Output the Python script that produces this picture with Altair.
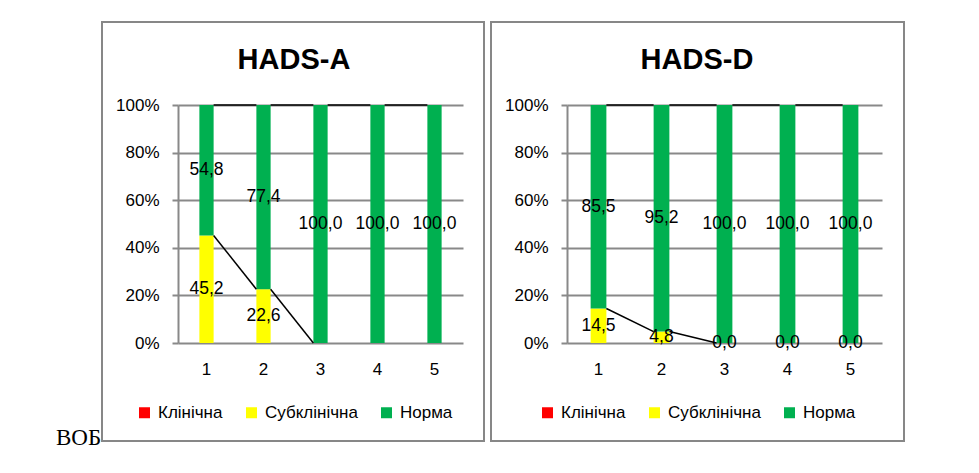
import altair as alt
import pandas as pd

# ---------------- data ----------------
categories = ["1", "2", "3", "4", "5"]
series_names = ["Клінічна", "Субклінічна", "Норма"]
series_colors = ["#FF0000", "#FFFF00", "#00B050"]

a_title = "HADS-A"
a_klin = [None, None, None, None, None]
a_subklin = [45.2, 22.6, None, None, None]
a_norma = [54.8, 77.4, 100.0, 100.0, 100.0]

d_title = "HADS-D"
d_klin = [None, None, None, None, None]
d_subklin = [14.5, 4.8, 0.0, 0.0, 0.0]
d_norma = [85.5, 95.2, 100.0, 100.0, 100.0]

y_ticks = [0, 20, 40, 60, 80, 100]
footnote = "ВОБ"


def table(klin, sub, norma):
    rows = []
    for sidx, (name, vals) in enumerate(zip(series_names, [klin, sub, norma])):
        for cat, v in zip(categories, vals):
            rows.append({
                "cat": cat, "series": name, "sidx": sidx,
                "value": 0.0 if v is None else v,
                "label": "" if v is None else f"{v:.1f}".replace(".", ","),
            })
    return pd.DataFrame(rows)


FONT = "Liberation Sans"
GRID = "#898989"
FRAME = "#878787"


def panel(df, title, width, legend_x, frame_x2, title_x, with_footnote=False):
    height = 238
    step = width / len(categories)
    off = 0.125 * step

    x = alt.X("cat:O", sort=categories, title=None,
              scale=alt.Scale(paddingInner=0, paddingOuter=0),
              axis=alt.Axis(labelAngle=0, domain=False, ticks=False, grid=False,
                            labelFont=FONT, labelFontSize=17, labelColor="black",
                            labelPadding=18))
    yscale = alt.Scale(domain=[0, 100], nice=False)
    yaxis = alt.Axis(values=y_ticks, labelExpr="datum.value + '%'",
                     domain=True, domainColor=GRID, domainWidth=2,
                     ticks=True, tickSize=6, tickColor=GRID, tickWidth=2,
                     grid=True, gridColor=GRID, gridWidth=2,
                     labelFont=FONT, labelFontSize=17, labelColor="black",
                     labelPadding=13)
    color = alt.Color("series:N",
                      scale=alt.Scale(domain=series_names, range=series_colors),
                      legend=alt.Legend(orient="none", legendX=legend_x, legendY=299,
                                        direction="horizontal", title=None,
                                        symbolType="square", symbolSize=121,
                                        symbolStrokeWidth=0, labelFont=FONT,
                                        labelFontSize=17, labelColor="black",
                                        columnPadding=20, labelOffset=5, padding=0))

    base = alt.Chart(df).transform_stack(
        stack="value", groupby=["cat"], as_=["y0", "y1"],
        sort=[alt.SortField("sidx", order="ascending")], offset="zero")

    bars = base.mark_bar(width={"band": 0.25}).encode(
        x=x,
        y=alt.Y("y1:Q", scale=yscale, axis=yaxis, title=None),
        y2="y0:Q",
        color=color,
    )

    lines = base.transform_window(
        ny1="lead(y1)", ncat="lead(cat)", groupby=["series"],
        sort=[alt.SortField("sidx"), alt.SortField("cat")]
    ).transform_filter(
        "datum.ncat != null && (datum.y1 > 0 || datum.ny1 > 0)"
    ).mark_rule(color="black", strokeWidth=1.5, xOffset=off, x2Offset=-off).encode(
        x=x,
        x2=alt.X2("ncat"),
        y=alt.Y("y1:Q", scale=yscale, axis=yaxis, title=None),
        y2=alt.Y2("ny1"),
    )

    labels = base.transform_filter("datum.label != ''").transform_calculate(
        mid="(datum.y0 + datum.y1) / 2"
    ).mark_text(font=FONT, fontSize=17.5, color="black", baseline="middle",
                align="center").encode(
        x=x,
        y=alt.Y("mid:Q", scale=yscale, axis=yaxis, title=None),
        text="label:N",
    )

    one = pd.DataFrame({"k": [0]})
    frame = alt.Chart(one).mark_rect(fill="white", fillOpacity=0, stroke=FRAME,
                                     strokeWidth=2).encode(
        x=alt.value(-76), x2=alt.value(frame_x2), y=alt.value(-83), y2=alt.value(336))

    ttl = alt.Chart(one).mark_text(font=FONT, fontSize=29, fontWeight="bold",
                                   color="black", align="center",
                                   baseline="alphabetic").encode(
        x=alt.value(title_x), y=alt.value(-36), text=alt.value(title))

    layers = [bars, lines, labels, frame, ttl]
    if with_footnote:
        foot = alt.Chart(one).mark_text(font="Liberation Serif", fontSize=23,
                                        color="black", align="left",
                                        baseline="alphabetic").encode(
            x=alt.value(-122), y=alt.value(340), text=alt.value(footnote))
        layers.append(foot)

    return alt.layer(*layers).properties(width=width, height=height)


left = panel(table(a_klin, a_subklin, a_norma), a_title, 285, -42, 306, 116,
             with_footnote=True)
right = panel(table(d_klin, d_subklin, d_norma), d_title, 315, -28, 337, 130)

chart = alt.hconcat(left, right, spacing=3).resolve_scale(
    x="independent", y="independent", color="independent"
).resolve_legend(color="independent").properties(
    padding={"left": 47, "top": 12, "right": 5, "bottom": 5}
).configure_view(stroke="transparent")

chart.save("out.html", embed_options={"renderer": "svg", "actions": False})
